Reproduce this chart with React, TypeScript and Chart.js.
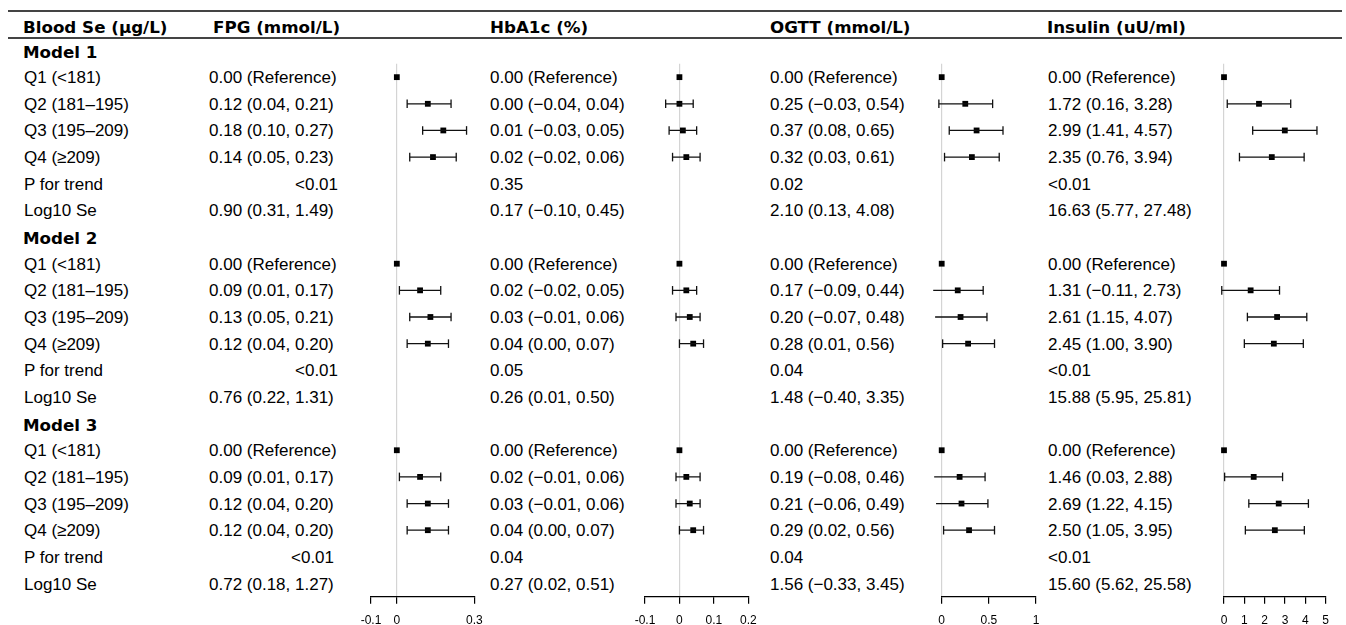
import React, { useEffect, useRef } from 'react';
import { Chart, registerables } from 'chart.js';

Chart.register(...registerables);

// ---------- DATA ----------
const headers = ['Blood Se (µg/L)', 'FPG (mmol/L)', 'HbA1c (%)', 'OGTT (mmol/L)', 'Insulin (uU/ml)'];
const modelNames = ['Model 1', 'Model 2', 'Model 3'];
const quartileLabels = ['Q1 (<181)', 'Q2 (181–195)', 'Q3 (195–209)', 'Q4 (≥209)'];
const trendLabel = 'P for trend';
const logLabel = 'Log10 Se';

// estimates for Q1..Q4 of Model 1, Model 2, Model 3 (Q1 = reference)
const fpgEst = [0, 0.12, 0.18, 0.14, 0, 0.09, 0.13, 0.12, 0, 0.09, 0.12, 0.12];
const fpgLo = [null, 0.04, 0.10, 0.05, null, 0.01, 0.05, 0.04, null, 0.01, 0.04, 0.04];
const fpgHi = [null, 0.21, 0.27, 0.23, null, 0.17, 0.21, 0.20, null, 0.17, 0.20, 0.20];
const fpgTrend = ['<0.01', '<0.01', '<0.01'];
const fpgLog = ['0.90 (0.31, 1.49)', '0.76 (0.22, 1.31)', '0.72 (0.18, 1.27)'];
const fpgTicks = [-0.1, 0, 0.3];
const fpgTickLabels = ['-0.1', '0', '0.3'];

const hbaEst = [0, 0.00, 0.01, 0.02, 0, 0.02, 0.03, 0.04, 0, 0.02, 0.03, 0.04];
const hbaLo = [null, -0.04, -0.03, -0.02, null, -0.02, -0.01, 0.00, null, -0.01, -0.01, 0.00];
const hbaHi = [null, 0.04, 0.05, 0.06, null, 0.05, 0.06, 0.07, null, 0.06, 0.06, 0.07];
const hbaTrend = ['0.35', '0.05', '0.04'];
const hbaLog = ['0.17 (−0.10, 0.45)', '0.26 (0.01, 0.50)', '0.27 (0.02, 0.51)'];
const hbaTicks = [-0.1, 0, 0.1, 0.2];
const hbaTickLabels = ['-0.1', '0', '0.1', '0.2'];

const ogttEst = [0, 0.25, 0.37, 0.32, 0, 0.17, 0.20, 0.28, 0, 0.19, 0.21, 0.29];
const ogttLo = [null, -0.03, 0.08, 0.03, null, -0.09, -0.07, 0.01, null, -0.08, -0.06, 0.02];
const ogttHi = [null, 0.54, 0.65, 0.61, null, 0.44, 0.48, 0.56, null, 0.46, 0.49, 0.56];
const ogttTrend = ['0.02', '0.04', '0.04'];
const ogttLog = ['2.10 (0.13, 4.08)', '1.48 (−0.40, 3.35)', '1.56 (−0.33, 3.45)'];
const ogttTicks = [0, 0.5, 1];
const ogttTickLabels = ['0', '0.5', '1'];

const insEst = [0, 1.72, 2.99, 2.35, 0, 1.31, 2.61, 2.45, 0, 1.46, 2.69, 2.50];
const insLo = [null, 0.16, 1.41, 0.76, null, -0.11, 1.15, 1.00, null, 0.03, 1.22, 1.05];
const insHi = [null, 3.28, 4.57, 3.94, null, 2.73, 4.07, 3.90, null, 2.88, 4.15, 3.95];
const insTrend = ['<0.01', '<0.01', '<0.01'];
const insLog = ['16.63 (5.77, 27.48)', '15.88 (5.95, 25.81)', '15.60 (5.62, 25.58)'];
const insTicks = [0, 1, 2, 3, 4, 5];
const insTickLabels = ['0', '1', '2', '3', '4', '5'];

// ---------- LAYOUT ----------
const ROW0 = 50.5;
const ROWH = 26.65;
const rowCenter = (i: number) => ROW0 + ROWH * i;
const HEADER_Y = 25.5;
const TEXT_OFF = 9;
const CANVAS_TOP = 50;
const CANVAS_H = 625 - CANVAS_TOP;
const labelX = 24;

type Panel = {
  est: number[]; lo: (number | null)[]; hi: (number | null)[];
  trend: string[]; log: string[]; ticks: number[]; tickLabels: string[];
  textX: number; headerX: number; trendX: number[];
  pxL: number; pxR: number; canvasL: number; canvasW: number;
};

const panels: Panel[] = [
  { est: fpgEst, lo: fpgLo, hi: fpgHi, trend: fpgTrend, log: fpgLog, ticks: fpgTicks, tickLabels: fpgTickLabels,
    textX: 209, headerX: 213, trendX: [295, 295, 291], pxL: 371, pxR: 474.3, canvasL: 331, canvasW: 184 },
  { est: hbaEst, lo: hbaLo, hi: hbaHi, trend: hbaTrend, log: hbaLog, ticks: hbaTicks, tickLabels: hbaTickLabels,
    textX: 490, headerX: 490, trendX: [490, 490, 490], pxL: 645, pxR: 748.3, canvasL: 605, canvasW: 184 },
  { est: ogttEst, lo: ogttLo, hi: ogttHi, trend: ogttTrend, log: ogttLog, ticks: ogttTicks, tickLabels: ogttTickLabels,
    textX: 770, headerX: 770, trendX: [770, 770, 770], pxL: 941.7, pxR: 1036, canvasL: 901, canvasW: 175 },
  { est: insEst, lo: insLo, hi: insHi, trend: insTrend, log: insLog, ticks: insTicks, tickLabels: insTickLabels,
    textX: 1048, headerX: 1047, trendX: [1048, 1048, 1048], pxL: 1224, pxR: 1325.7, canvasL: 1184, canvasW: 162 },
];

const fmt = (v: number) => v.toFixed(2).replace('-', '−');
const rowOf = (k: number) => Math.floor(k / 4) * 7 + 1 + (k % 4);

function ForestPanel({ p }: { p: Panel }) {
  const ref = useRef<HTMLCanvasElement>(null);
  useEffect(() => {
    if (!ref.current) return;
    const whisk: any[] = [];
    const caps: any[] = [];
    const pts: any[] = [];
    p.est.forEach((e, k) => {
      const y = rowOf(k);
      pts.push({ x: e, y });
      const lo = p.lo[k];
      const hi = p.hi[k];
      if (lo != null && hi != null) {
        whisk.push({ x: lo, y }, { x: hi, y }, { x: NaN, y: NaN });
        caps.push({ x: lo, y }, { x: hi, y });
      }
    });
    const padL = p.pxL - p.canvasL;
    const padR = p.canvasL + p.canvasW - p.pxR;
    const padT = rowCenter(0.5) - CANVAS_TOP;
    const scaleH = CANVAS_TOP + CANVAS_H - rowCenter(20.5);
    const chart = new Chart(ref.current, {
      type: 'scatter',
      data: {
        datasets: [
          { type: 'line', data: whisk, borderColor: '#111', borderWidth: 1.3, pointRadius: 0, pointHoverRadius: 0,
            spanGaps: false, clip: false as any, showLine: true } as any,
          { type: 'scatter', data: caps, pointStyle: 'line', pointRotation: 90, pointRadius: 4.3, pointHoverRadius: 4.3,
            pointBorderColor: '#111', pointBorderWidth: 1.3, clip: false as any } as any,
          { type: 'scatter', data: pts, pointStyle: 'rect', pointRadius: 4.1, pointHoverRadius: 4.1,
            pointBackgroundColor: '#000', pointBorderColor: '#000', pointBorderWidth: 0, clip: false as any } as any,
        ],
      },
      options: {
        animation: false,
        responsive: false,
        maintainAspectRatio: false,
        events: [],
        layout: { padding: { left: padL, right: padR, top: padT, bottom: 0 } },
        plugins: { legend: { display: false }, tooltip: { enabled: false } },
        scales: {
          x: {
            type: 'linear',
            min: p.ticks[0],
            max: p.ticks[p.ticks.length - 1],
            afterBuildTicks: (s: any) => { s.ticks = p.ticks.map((v) => ({ value: v })); },
            afterFit: (s: any) => { s.height = scaleH; },
            ticks: {
              autoSkip: false,
              maxRotation: 0,
              padding: 10,
              color: '#000',
              font: { family: 'Liberation Sans', size: 12 },
              callback: (v: any) => p.tickLabels[p.ticks.indexOf(Number(v))] ?? '',
            },
            grid: {
              drawOnChartArea: true,
              color: (ctx: any) => (ctx.tick && ctx.tick.value === 0 ? '#d4d4d4' : 'rgba(0,0,0,0)'),
              lineWidth: 1.2,
              tickColor: '#000',
              tickLength: 7,
              tickWidth: 1.2,
            } as any,
            border: { display: true, color: '#000', width: 1.2 },
          },
          y: { type: 'linear', min: 0.5, max: 20.5, reverse: true, display: false },
        },
      },
    });
    return () => chart.destroy();
  }, [p]);
  return (
    <canvas
      ref={ref}
      width={p.canvasW}
      height={CANVAS_H}
      style={{ position: 'absolute', left: p.canvasL, top: CANVAS_TOP, width: p.canvasW, height: CANVAS_H }}
    />
  );
}

const bodyFont: React.CSSProperties = { fontFamily: '"Liberation Sans", Arial, sans-serif', fontSize: 17, lineHeight: '20px', color: '#000' };
const boldFont: React.CSSProperties = { fontFamily: '"DejaVu Sans", sans-serif', fontWeight: 'bold', fontSize: 16.7, lineHeight: '20px', color: '#000' };

function Txt({ x, y, text, bold }: { x: number; y: number; text: string; bold?: boolean }) {
  return (
    <div style={{ position: 'absolute', left: x, top: y - TEXT_OFF, whiteSpace: 'nowrap', ...(bold ? boldFont : bodyFont) }}>
      {text}
    </div>
  );
}

export default function App() {
  const texts: JSX.Element[] = [];
  headers.forEach((h, c) => {
    texts.push(<Txt key={'h' + c} x={c === 0 ? 23 : panels[c - 1].headerX} y={HEADER_Y} text={h} bold />);
  });
  modelNames.forEach((m, mi) => {
    const base = mi * 7;
    texts.push(<Txt key={'m' + mi} x={23} y={rowCenter(base)} text={m} bold />);
    quartileLabels.forEach((q, qi) => {
      texts.push(<Txt key={'q' + mi + qi} x={labelX} y={rowCenter(base + 1 + qi)} text={q} />);
    });
    texts.push(<Txt key={'t' + mi} x={labelX} y={rowCenter(base + 5)} text={trendLabel} />);
    texts.push(<Txt key={'l' + mi} x={labelX} y={rowCenter(base + 6)} text={logLabel} />);
    panels.forEach((p, pi) => {
      for (let qi = 0; qi < 4; qi++) {
        const k = mi * 4 + qi;
        const lo = p.lo[k];
        const hi = p.hi[k];
        const s = lo == null || hi == null ? `${fmt(p.est[k])} (Reference)` : `${fmt(p.est[k])} (${fmt(lo)}, ${fmt(hi)})`;
        texts.push(<Txt key={`v${pi}-${k}`} x={p.textX} y={rowCenter(base + 1 + qi)} text={s} />);
      }
      texts.push(<Txt key={`pt${pi}-${mi}`} x={p.trendX[mi]} y={rowCenter(base + 5)} text={p.trend[mi]} />);
      texts.push(<Txt key={`lg${pi}-${mi}`} x={p.textX} y={rowCenter(base + 6)} text={p.log[mi]} />);
    });
  });
  return (
    <div style={{ position: 'absolute', left: 0, top: 0, width: 1346, height: 625, background: '#fff', overflow: 'hidden' }}>
      <div style={{ position: 'absolute', left: 8, top: 10, width: 1334, height: 2, background: '#444' }} />
      <div style={{ position: 'absolute', left: 8, top: 37, width: 1334, height: 2, background: '#444' }} />
      {texts}
      {panels.map((p, i) => (
        <ForestPanel key={i} p={p} />
      ))}
    </div>
  );
}
